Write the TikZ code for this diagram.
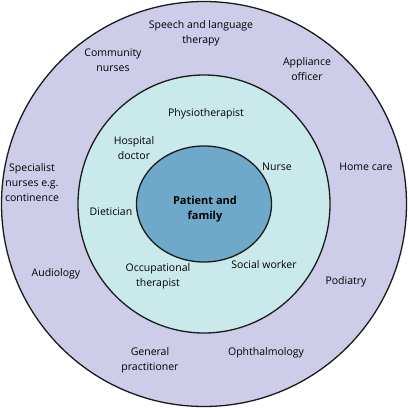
\documentclass[tikz,border=0pt]{standalone}
\usepackage{fontspec}
\setmainfont{Open Sans}
\usetikzlibrary{shapes.geometric}
\definecolor{outerc}{HTML}{CDCDE9}
\definecolor{midc}{HTML}{C9E9EB}
\definecolor{innerc}{HTML}{6FA9C9}
\definecolor{linec}{HTML}{1A1A1A}
\begin{document}
\begin{tikzpicture}[x=1pt,y=-1pt,
  ring/.style={draw=linec,line width=1.3pt,ellipse,inner sep=0pt},
  lbl/.style={align=center,font=\fontsize{10.5}{15}\selectfont,inner sep=0pt,text=black}]
\useasboundingbox (0,0) rectangle (408,408);
\node[ring,fill=outerc,minimum width=405pt,minimum height=405pt] (outer) at (204,204) {};
\node[ring,fill=midc,minimum width=252pt,minimum height=258pt] (mid) at (204,204) {};
\node[ring,fill=innerc,minimum width=135pt,minimum height=116pt] (inner) at (204,204) {};
\node[lbl,font=\fontsize{11}{15}\selectfont\bfseries] (pf) at (205,209.5) {Patient and\\family};
\node[lbl] (speech) at (201,33.5) {Speech and language\\therapy};
\node[lbl] (comm) at (113,60.5) {Community\\nurses};
\node[lbl] (appl) at (307,69) {Appliance\\officer};
\node[lbl] (physio) at (206,114) {Physiotherapist};
\node[lbl] (hosp) at (134,148.5) {Hospital\\doctor};
\node[lbl] (nurse) at (277,167) {Nurse};
\node[lbl] (home) at (366,167) {Home care};
\node[lbl] (spec) at (32,183) {Specialist\\nurses e.g.\\continence};
\node[lbl] (diet) at (111,212) {Dietician};
\node[lbl] (audio) at (56,274) {Audiology};
\node[lbl] (occ) at (158,276.5) {Occupational\\therapist};
\node[lbl] (social) at (264,265) {Social worker};
\node[lbl] (pod) at (346,282) {Podiatry};
\node[lbl] (gp) at (150,360.5) {General\\practitioner};
\node[lbl] (oph) at (266,353) {Ophthalmology};
\end{tikzpicture}
\end{document}
